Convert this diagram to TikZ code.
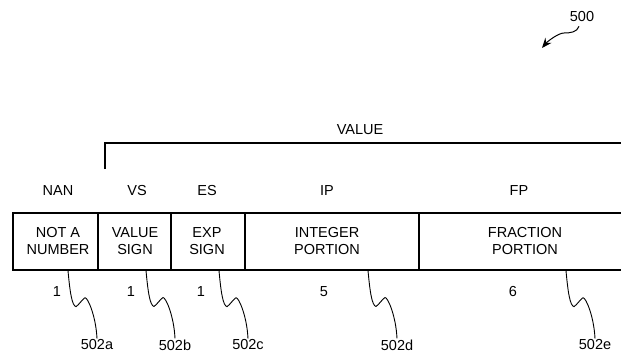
\documentclass[tikz,border=0pt]{standalone}
\usepackage{fontspec}
\setmainfont{Liberation Sans}
\usetikzlibrary{arrows.meta,positioning,calc}
\tikzstyle{cell}=[rectangle, draw=black, line width=1.7pt, minimum height=57pt,
  inner sep=0pt, outer sep=0pt]
\tikzstyle{txt}=[font=\fontsize{14.5}{17}\selectfont, align=center, inner sep=1pt]
\tikzstyle{lead}=[line width=0.9pt, line join=round]
\tikzstyle{brkt}=[line width=1.5pt]
\tikzstyle{arrow}=[-{Stealth[length=10pt,width=8pt]}, line width=1pt]

\begin{document}
\begin{tikzpicture}[x=1pt,y=-1pt]
\useasboundingbox (0,0) rectangle (621,354);
\clip (0,0) rectangle (621,354);
\node (nan) [cell, minimum width=85pt, anchor=north west] at (13,213) {};
\node (vs) [cell, minimum width=73pt, right=0pt of nan] {};
\node (es) [cell, minimum width=74pt, right=0pt of vs] {};
\node (ip) [cell, minimum width=174pt, right=0pt of es] {};
\node (fp) [cell, minimum width=230pt, right=0pt of ip] {};
\node (nant) [txt] at (58,241) {NOT A\\NUMBER};
\node (vst) [txt] at (135,241) {VALUE\\SIGN};
\node (est) [txt] at (207,241) {EXP\\SIGN};
\node (ipt) [txt] at (327,241) {INTEGER\\PORTION};
\node (fpt) [txt] at (525,241) {FRACTION\\PORTION};
\node (nanh) [txt] at (58,191) {NAN};
\node (vsh) [txt] at (137,191) {VS};
\node (esh) [txt] at (207,191) {ES};
\node (iph) [txt] at (327,191) {IP};
\node (fph) [txt] at (519,191) {FP};
\node (value) [txt] at (360,130) {VALUE};
\coordinate (brk) at (105,169);
\coordinate (brkend) at (640,143);
\draw[brkt] (brk) |- (brkend);
\node (nann) [txt] at (57,292) {1};
\node (vsn) [txt] at (131,292) {1};
\node (esn) [txt] at (201,292) {1};
\node (ipn) [txt] at (324,292) {5};
\node (fpn) [txt] at (513,292) {6};
\node (r502a) [txt] at (97,345) {502a};
\node (r502b) [txt] at (175,345) {502b};
\node (r502c) [txt] at (248,345) {502c};
\node (r502d) [txt] at (397,345) {502d};
\node (r502e) [txt] at (595,345) {502e};
\foreach \r in {a,b,c,d,e}
  \draw[lead] ($(r502\r.north)+(-29,-68)$) .. controls +(2,22) and +(-4,-1) ..
    ($(r502\r.north)+(-21,-32)$) .. controls +(3,-2) and +(-3,2) ..
    ($(r502\r.north)+(-12,-41)$) .. controls +(3,0) and +(-1,-22) .. (r502\r.north);
\node (n500) [txt] at (582,17) {500};
\coordinate (tip500) at (542,48);
\draw[arrow] ($(n500.south)+(-3,3)$) .. controls +(-2,6) and +(6,0) .. (564,33)
  .. controls +(-6,0) and +(5,-6) .. (tip500);
\end{tikzpicture}
\end{document}
